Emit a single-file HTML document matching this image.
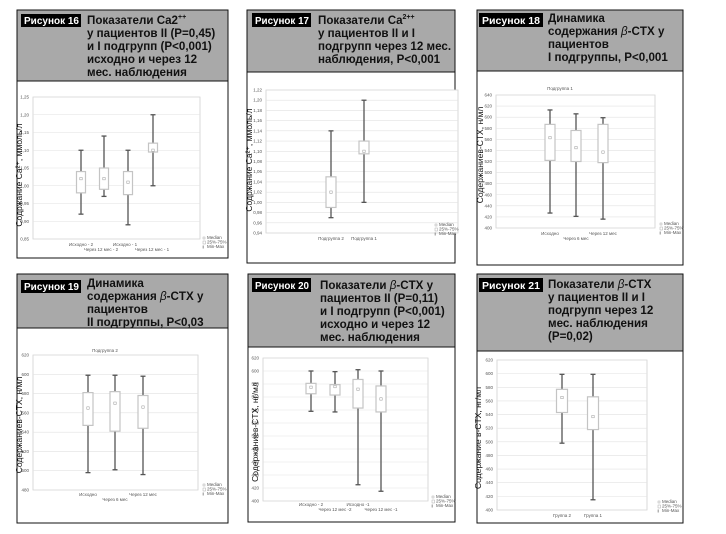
<!DOCTYPE html>
<html><head><meta charset="utf-8"><style>
html,body{margin:0;padding:0;background:#fff;}
svg{display:block;font-family:"Liberation Sans",sans-serif;}
.t{font-size:11.6px;font-weight:bold;fill:#111;}
.lb{font-size:10px;font-weight:bold;fill:#fff;}
.tk{font-size:4.5px;fill:#555;}
.yl{font-size:8.5px;fill:#111;}
.lg{font-size:4.5px;fill:#555;}
</style></head><body>
<svg id="s" width="726" height="534" viewBox="0 0 726 534" xmlns="http://www.w3.org/2000/svg">
<g fill="#a9a9a9" stroke="#111" stroke-width="1">
<rect x="17" y="10" width="211" height="71"/>
<rect x="247" y="10" width="208" height="62"/>
<rect x="477" y="10" width="206" height="61"/>
<rect x="17" y="274" width="211" height="54"/>
<rect x="248" y="274" width="207" height="73"/>
<rect x="477" y="274" width="206" height="77"/>
</g>
<g fill="none" stroke="#111" stroke-width="1">
<rect x="17" y="10" width="211" height="248"/>
<rect x="247" y="10" width="208" height="253"/>
<rect x="477" y="10" width="206" height="255"/>
<rect x="17" y="274" width="211" height="249"/>
<rect x="248" y="274" width="207" height="248"/>
<rect x="477" y="274" width="206" height="249"/>
</g>
<g fill="#000">
<rect x="21" y="14" width="60" height="13"/>
<rect x="252" y="13" width="59" height="14"/>
<rect x="479" y="13" width="64" height="14"/>
<rect x="21" y="280" width="60" height="13"/>
<rect x="252" y="278" width="59" height="14"/>
<rect x="479" y="278" width="64" height="14"/>
</g>
<text class="lb" x="24" y="24" textLength="55" lengthAdjust="spacingAndGlyphs">Рисунок 16</text>
<text class="lb" x="255" y="24" textLength="54" lengthAdjust="spacingAndGlyphs">Рисунок 17</text>
<text class="lb" x="482" y="24" textLength="58" lengthAdjust="spacingAndGlyphs">Рисунок 18</text>
<text class="lb" x="24" y="290" textLength="55" lengthAdjust="spacingAndGlyphs">Рисунок 19</text>
<text class="lb" x="255" y="289" textLength="54" lengthAdjust="spacingAndGlyphs">Рисунок 20</text>
<text class="lb" x="482" y="289" textLength="58" lengthAdjust="spacingAndGlyphs">Рисунок 21</text>

<text class="t"><tspan x="87" y="24">Показатели Ca2<tspan font-size="7" dy="-5">++</tspan></tspan><tspan x="87" y="37">у пациентов II (P=0,45)</tspan><tspan x="87" y="50">и I подгрупп (P&lt;0,001)</tspan><tspan x="87" y="63">исходно и через 12</tspan><tspan x="87" y="76">мес. наблюдения</tspan></text>
<text class="t"><tspan x="318" y="24">Показатели Ca<tspan font-size="7" dy="-5">2++</tspan></tspan><tspan x="318" y="37">у пациентов II и I</tspan><tspan x="318" y="50">подгрупп через 12 мес.</tspan><tspan x="318" y="63">наблюдения, P&lt;0,001</tspan></text>
<text class="t"><tspan x="548" y="22">Динамика</tspan><tspan x="548" y="35">содержания <tspan font-style="italic" font-weight="normal">β</tspan>-CTX у</tspan><tspan x="548" y="48">пациентов</tspan><tspan x="548" y="61">I подгруппы, P&lt;0,001</tspan></text>
<text class="t"><tspan x="87" y="287">Динамика</tspan><tspan x="87" y="300">содержания <tspan font-style="italic" font-weight="normal">β</tspan>-CTX у</tspan><tspan x="87" y="313">пациентов</tspan><tspan x="87" y="326">II подгруппы, P&lt;0,03</tspan></text>
<text class="t"><tspan x="320" y="289">Показатели <tspan font-style="italic" font-weight="normal">β</tspan>-CTX у</tspan><tspan x="320" y="302">пациентов II (P=0,11)</tspan><tspan x="320" y="315">и I подгрупп (P&lt;0,001)</tspan><tspan x="320" y="328">исходно и через 12</tspan><tspan x="320" y="341">мес. наблюдения</tspan></text>
<text class="t"><tspan x="548" y="288">Показатели <tspan font-style="italic" font-weight="normal">β</tspan>-CTX</tspan><tspan x="548" y="301">у пациентов II и I</tspan><tspan x="548" y="314">подгрупп через 12</tspan><tspan x="548" y="327">мес. наблюдения</tspan><tspan x="548" y="340">(P=0,02)</tspan></text>
<g id="charts"></g>
</svg>
<script>
var NS="http://www.w3.org/2000/svg",G=document.getElementById("charts");
function el(t,a,txt){var e=document.createElementNS(NS,t);for(var k in a)e.setAttribute(k,a[k]);if(txt!=null)e.textContent=txt;G.appendChild(e);return e;}
function chart(c){
 var sc=function(v){return c.top+(c.vmax-v)/(c.vmax-c.vmin)*(c.bot-c.top);};
 el("rect",{x:c.left,y:c.top,width:c.right-c.left,height:c.bot-c.top,fill:"#fff",stroke:"#c8c8c8","stroke-width":0.7});
 for(var v=c.vmax;v>=c.vmin-1e-9;v-=c.step){var y=sc(v);
  el("line",{x1:c.left,x2:c.right,y1:y,y2:y,stroke:"#e2e2e2","stroke-width":0.6});
  el("text",{x:c.left-4,y:y+1.5,"class":"tk","text-anchor":"end"},c.fmt(v));}
 c.boxes.forEach(function(b){var x=b[0],w=c.bw;
  el("line",{x1:x,x2:x,y1:sc(b[5]),y2:sc(b[4]),stroke:"#555","stroke-width":1.3});
  el("line",{x1:x-2.5,x2:x+2.5,y1:sc(b[5]),y2:sc(b[5]),stroke:"#555","stroke-width":1.3});
  el("line",{x1:x-2.5,x2:x+2.5,y1:sc(b[4]),y2:sc(b[4]),stroke:"#555","stroke-width":1.3});
  el("rect",{x:x-w/2,y:sc(b[2]),width:w,height:sc(b[1])-sc(b[2]),fill:"#fff",stroke:"#c4c4c4","stroke-width":1.2});
  el("rect",{x:x-1.2,y:sc(b[3])-1.2,width:2.4,height:2.4,fill:"none",stroke:"#999","stroke-width":0.5});});
 c.xl.forEach(function(l){el("text",{x:l[0],y:l[1],"class":"tk","text-anchor":"middle"},l[2]);});
 if(c.title)el("text",{x:c.title[0],y:c.title[1],"class":"tk","text-anchor":"middle"},c.title[2]);
 el("text",{x:0,y:0,"class":"yl","text-anchor":"middle",transform:"translate("+c.yl[0]+","+c.yl[1]+") rotate(-90)"},c.yl[2]);
 var lx=c.lg[0],ly=c.lg[1];
 el("rect",{x:lx,y:ly-2,width:2,height:2,fill:"none",stroke:"#999","stroke-width":0.4});
 el("text",{x:lx+4,y:ly,"class":"lg"},"Median");
 el("rect",{x:lx,y:ly+2,width:2.5,height:3,fill:"none",stroke:"#999","stroke-width":0.4});
 el("text",{x:lx+4,y:ly+4.5,"class":"lg"},"25%-75%");
 el("text",{x:lx-0.5,y:ly+9.5,"class":"lg","font-weight":"bold",fill:"#333"},"I");
 el("text",{x:lx+4,y:ly+9,"class":"lg"},"Min-Max");
}
var f2=function(v){return v.toFixed(2).replace(".",",");},f0=function(v){return Math.round(v)+"";};
chart({left:33,right:200,top:97,bot:239,vmax:1.25,vmin:0.85,step:0.05,fmt:f2,bw:9,
 boxes:[[81,0.98,1.04,1.02,0.92,1.10],[104,0.99,1.05,1.02,0.97,1.14],[128,0.975,1.04,1.01,0.89,1.10],[153,1.095,1.12,1.10,1.00,1.20]],
 xl:[[81,246,"Исходно - 2"],[101,251,"Через 12 мес - 2"],[125,246,"Исходно - 1"],[152,251,"Через 12 мес - 1"]],
 yl:[22,175,"Содржание Ca²⁺, ммоль/л"],lg:[203,239]});
chart({left:266,right:458,top:90,bot:233,vmax:1.22,vmin:0.94,step:0.02,fmt:f2,bw:10,
 boxes:[[331,0.99,1.05,1.02,0.97,1.14],[364,1.095,1.12,1.10,1.00,1.20]],
 xl:[[331,240,"Подгруппа 2"],[364,240,"Подгруппа 1"]],
 yl:[252,160,"Содржание Ca²⁺, ммоль/л"],lg:[435,226]});
chart({left:496,right:655,top:95,bot:228,vmax:640,vmin:400,step:20,fmt:f0,bw:10,
 boxes:[[550,522,587,563,427,613],[576,520,576,545,421,606],[603,518,587,537,416,599]],
 xl:[[550,235,"Исходно"],[576,240,"Через 6 мес"],[603,235,"Через 12 мес"]],title:[560,90,"Подгруппа 1"],
 yl:[483,155,"Содержаниев-CTX, н/мл"],lg:[660,225]});
chart({left:33,right:198,top:355,bot:490,vmax:620,vmin:480,step:20,fmt:f0,bw:10,
 boxes:[[88,547,581,565,498,599],[115,541,582,570,501,599],[143,544,578,566,496,598]],
 xl:[[88,496,"Исходно"],[115,501,"Через 6 мес"],[143,496,"Через 12 мес"]],title:[105,352,"Подгруппа 2"],
 yl:[22,425,"Содержаниев-CTX, н/мл"],lg:[203,486]});
chart({left:263,right:428,top:358,bot:501,vmax:620,vmin:400,step:20,fmt:f0,bw:10,
 boxes:[[311,565,581,575,538,600],[335,563,579,576,537,599],[358,543,587,572,425,602],[381,537,577,557,415,600]],
 xl:[[311,506,"Исходно - 2"],[335,511,"Через 12 мес -2"],[358,506,"Исходно -1"],[381,511,"Через 12 мес -1"]],
 yl:[258,432,"Содержаниев-CTX, нг/мл"],lg:[432,498]});
chart({left:497,right:647,top:360,bot:510,vmax:620,vmin:400,step:20,fmt:f0,bw:11,
 boxes:[[562,543,577,565,498,599],[593,518,566,537,415,599]],
 xl:[[562,517,"Группа 2"],[593,517,"Группа 1"]],
 yl:[481,438,"Содержание в-CTX, нг/мл"],lg:[658,503]});
</script>
</body></html>
